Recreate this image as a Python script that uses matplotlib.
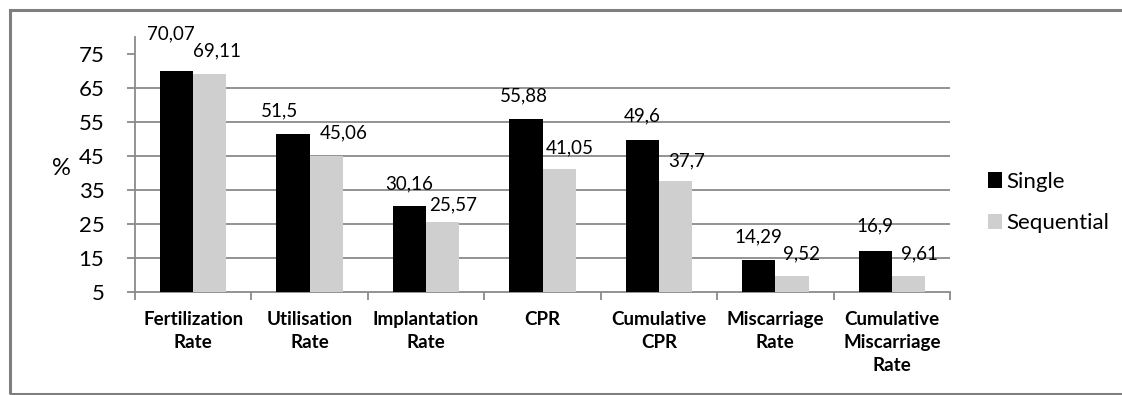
import matplotlib
matplotlib.use("Agg")
import matplotlib.pyplot as plt
from matplotlib.patches import Rectangle
import numpy as np

categories = ["Fertilization\nRate", "Utilisation\nRate", "Implantation\nRate", "CPR",
              "Cumulative\nCPR", "Miscarriage\nRate", "Cumulative\nMiscarriage\nRate"]
single = [70.07, 51.5, 30.16, 55.88, 49.6, 14.29, 16.9]
sequential = [69.11, 45.06, 25.57, 41.05, 37.7, 9.52, 9.61]
single_labels = ["70,07", "51,5", "30,16", "55,88", "49,6", "14,29", "16,9"]
sequential_labels = ["69,11", "45,06", "25,57", "41,05", "37,7", "9,52", "9,61"]
yticks = [5, 15, 25, 35, 45, 55, 65, 75]

# label offsets in pixels (dx, dy above bar top)
single_off = [(-6, 37), (-13, 23), (0, 22), (-2, 23), (0, 24), (0, 23), (0, 25)]
seq_off = [(7, 23), (17, 23), (10, 17), (11, 21), (11, 20), (10, 22), (11, 22)]

plt.rcParams['font.family'] = ['Lato', 'DejaVu Sans']

W, H = 1122, 395
fig = plt.figure(figsize=(W / 100, H / 100), dpi=100)
ax = fig.add_axes([135 / W, 1 - 291.7 / H, (950 - 135) / W, (291.7 - 37) / H])

x = np.arange(len(categories))
bw = 1 / 3.5
b1 = ax.bar(x - bw / 2, single, bw, color="black", label="Single", zorder=3)
b2 = ax.bar(x + bw / 2, sequential, bw, color="#cfcfcf", label="Sequential", zorder=3)

ax.set_ylim(5, 80)
ax.set_xlim(-0.5, len(categories) - 0.5)
ax.set_yticks(yticks)
ax.set_yticklabels([str(v) for v in yticks], fontsize=16)
for v in yticks[1:-1]:
    ax.axhline(v, color="#8a8a8a", lw=1.3, zorder=1)

ax.set_xticks(x)
ax.set_xticklabels(categories, fontsize=13.5, fontweight="bold", linespacing=1.42)
ax.set_xticks(np.arange(len(categories) + 1) - 0.5, minor=True)
ax.tick_params(axis="x", which="major", length=0, pad=14)
ax.tick_params(axis="x", which="minor", length=6, color="#8a8a8a", width=1.3, direction="out")
ax.tick_params(axis="y", length=6, color="#8a8a8a", width=1.3, pad=16)

for s in ["top", "right"]:
    ax.spines[s].set_visible(False)
for s in ["left", "bottom"]:
    ax.spines[s].set_color("#8a8a8a")
    ax.spines[s].set_linewidth(1.3)

for i in range(len(categories)):
    ax.annotate(single_labels[i], (x[i] - bw / 2, single[i]), xytext=single_off[i],
                textcoords="offset pixels", ha="center", va="center", fontsize=13.5, zorder=4)
    ax.annotate(sequential_labels[i], (x[i] + bw / 2, sequential[i]), xytext=seq_off[i],
                textcoords="offset pixels", ha="center", va="center", fontsize=13.5, zorder=4)

fig.text(61 / W, 1 - 168 / H, "%", fontsize=17, ha="center", va="center")

leg = fig.legend(handles=[b1, b2], loc="upper left", bbox_to_anchor=(988 / W, 1 - 172 / H),
                 frameon=False, fontsize=16, borderpad=0, borderaxespad=0,
                 handlelength=0.62, handleheight=0.7, handletextpad=0.22, labelspacing=0.95)

# outer frame
fig.add_artist(Rectangle((10 / W, 1 / H), 1.2, 1 - 10 / H - 1 / H, transform=fig.transFigure,
                         fill=False, edgecolor="#7f7f7f", lw=2.2))

fig.savefig("out.png", dpi=100)
